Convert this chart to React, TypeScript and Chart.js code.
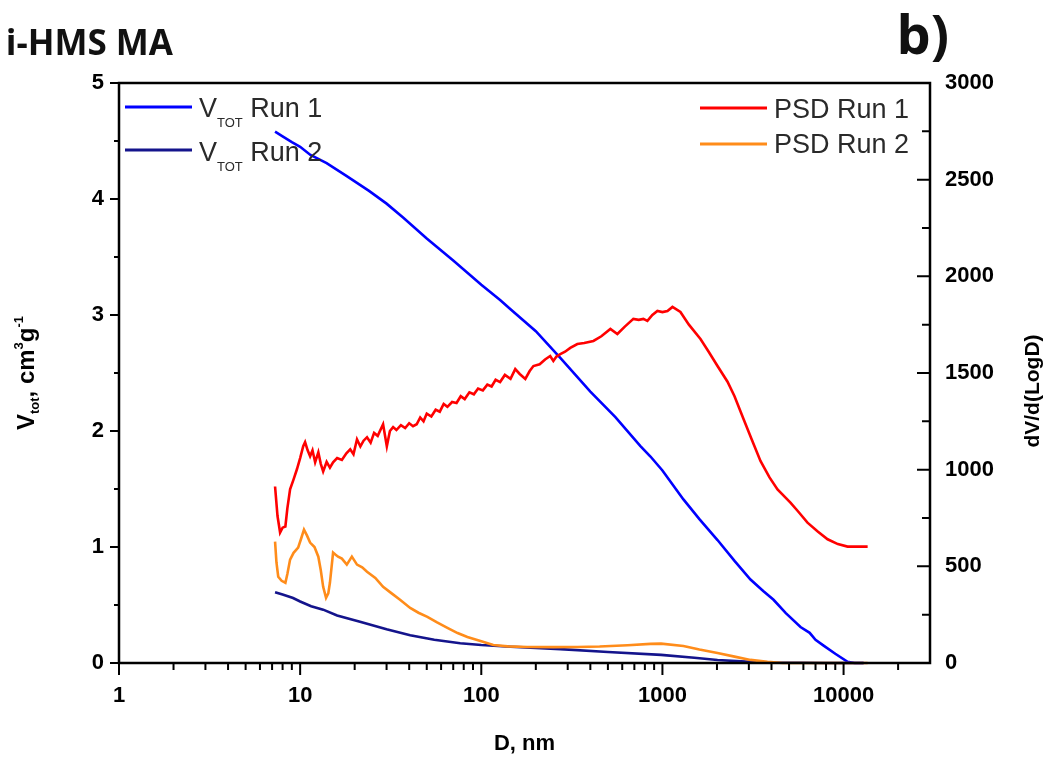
import React, { useEffect, useRef } from 'react';
import { Chart, registerables } from 'chart.js';

Chart.register(...registerables);

// ---- data (D in nm) ----
const vRun1D = [7.27, 8, 9, 10, 11.4, 14, 18, 24, 30, 37, 50, 70, 100, 127, 145, 200, 273, 400, 550, 756, 859, 1000, 1306, 1600, 2014, 2500, 3063, 3600, 4105, 4800, 5784, 6500, 7000, 7759, 9000, 10520, 11500, 12900];
const vRun1 = [4.58, 4.54, 4.49, 4.45, 4.38, 4.31, 4.2, 4.07, 3.96, 3.84, 3.66, 3.47, 3.26, 3.13, 3.05, 2.86, 2.63, 2.34, 2.12, 1.87, 1.78, 1.66, 1.41, 1.24, 1.06, 0.88, 0.72, 0.62, 0.545, 0.43, 0.31, 0.26, 0.2, 0.15, 0.08, 0.01, 0.0, 0.0];

const vRun2D = [7.27, 8, 9.14, 10, 11.5, 13.4, 16, 21.4, 30, 40.5, 55, 76.5, 100, 145, 200, 273, 500, 983, 1500, 2014, 3063, 4000, 5784, 8000, 12900];
const vRun2 = [0.61, 0.59, 0.56, 0.53, 0.49, 0.46, 0.41, 0.355, 0.29, 0.24, 0.2, 0.17, 0.155, 0.14, 0.13, 0.12, 0.095, 0.07, 0.045, 0.026, 0.01, 0.004, 0.002, 0, 0];

const psd1D = [7.27, 7.5, 7.75, 8.0, 8.29, 8.5, 8.8, 9.2, 9.6, 10.0, 10.4, 10.65, 11.0, 11.35, 11.7, 12.1, 12.6, 13.0, 13.4, 14.0, 14.6, 15.2, 16.0, 17.0, 18.0, 18.9, 19.7, 20.6, 21.5, 22.4, 23.4, 24.5, 25.6, 26.8, 28.7, 30.1, 31.3, 32.6, 34, 36, 38, 40, 42, 44, 46, 48, 50, 53, 56, 59, 62, 65, 69, 73, 77, 81, 86, 91, 96, 102, 108, 114, 120, 127, 135, 145, 154, 163, 175, 185, 194, 210, 225, 240, 250, 260, 273, 290, 310, 339, 370, 416, 460, 516, 564, 620, 691, 740, 785, 826, 880, 938, 1000, 1066, 1136, 1257, 1400, 1622, 1800, 2014, 2287, 2500, 2803, 3100, 3477, 3900, 4318, 5090, 5600, 6321, 7200, 8164, 9300, 10520, 12000, 13580];
const psd1 = [913, 760, 675, 700, 706, 800, 898, 950, 1002, 1060, 1121, 1142, 1100, 1069, 1100, 1038, 1090, 1030, 991, 1040, 1010, 1038, 1060, 1050, 1085, 1105, 1080, 1157, 1120, 1150, 1168, 1140, 1190, 1175, 1235, 1121, 1200, 1220, 1205, 1230, 1215, 1240, 1225, 1235, 1270, 1250, 1290, 1275, 1310, 1300, 1340, 1325, 1350, 1345, 1380, 1365, 1400, 1390, 1420, 1410, 1440, 1430, 1465, 1453, 1490, 1470, 1520, 1495, 1469, 1510, 1536, 1545, 1570, 1588, 1562, 1585, 1598, 1610, 1630, 1650, 1655, 1666, 1690, 1728, 1702, 1740, 1780, 1775, 1780, 1770, 1800, 1821, 1815, 1821, 1842, 1816, 1750, 1676, 1610, 1536, 1455, 1380, 1262, 1160, 1045, 960, 898, 830, 785, 726, 680, 640, 615, 602, 602, 602];

const psd2D = [7.27, 7.4, 7.57, 7.9, 8.29, 8.5, 8.8, 9.2, 9.75, 10.1, 10.5, 10.9, 11.35, 12.0, 12.6, 13.0, 13.4, 13.9, 14.3, 14.6, 15.2, 15.7, 16.2, 17.0, 18.1, 19.3, 20.6, 22.0, 23.4, 26, 28.7, 32, 35.6, 40.5, 45, 50.4, 57, 65, 74, 83.8, 100, 116.5, 140, 179, 250, 339, 450, 643, 859, 983, 1306, 1600, 2014, 2500, 3063, 3800, 4640, 8000, 13580];
const psd2 = [628, 520, 446, 425, 415, 460, 535, 570, 597, 640, 690, 660, 623, 600, 550, 480, 394, 337, 360, 415, 571, 560, 550, 540, 509, 550, 509, 495, 472, 440, 394, 360, 327, 285, 260, 239, 210, 182, 155, 135, 112, 93, 86, 83, 82, 83, 85, 92, 99, 100, 88, 70, 52, 33, 16, 6, 0, 0, 0];

// ---- axis ticks ----
const xMajorTicks = [1, 10, 100, 1000, 10000];
const xMinorTicks = [2, 3, 4, 5, 6, 7, 8, 9, 20, 30, 40, 50, 60, 70, 80, 90, 200, 300, 400, 500, 600, 700, 800, 900, 2000, 3000, 4000, 5000, 6000, 7000, 8000, 9000, 20000];
const leftMajorTicks = [0, 1, 2, 3, 4, 5];
const leftMinorTicks = [0.5, 1.5, 2.5, 3.5, 4.5];
const rightMajorTicks = [0, 500, 1000, 1500, 2000, 2500, 3000];
const rightMinorTicks = [250, 750, 1250, 1750, 2250, 2750];

const toPts = (xs: number[], ys: number[]) => xs.map((x, i) => ({ x, y: ys[i] }));

const SANS = '"Liberation Sans", Arial, sans-serif';

const drawRuns = (ctx: CanvasRenderingContext2D, runs: { t: string; size: number; dy: number; bold?: boolean }[], x: number, y: number, align: 'left' | 'center') => {
  let total = 0;
  const widths = runs.map((r) => {
    ctx.font = `${r.bold ? 'bold ' : ''}${r.size}px ${SANS}`;
    const w = ctx.measureText(r.t).width;
    total += w;
    return w;
  });
  let cx = align === 'center' ? x - total / 2 : x;
  runs.forEach((r, i) => {
    ctx.font = `${r.bold ? 'bold ' : ''}${r.size}px ${SANS}`;
    ctx.fillText(r.t, cx, y + r.dy);
    cx += widths[i];
  });
};

const decorPlugin = {
  id: 'decor',
  afterDraw(chart: any) {
    const ctx: CanvasRenderingContext2D = chart.ctx;
    const { left, right, top, bottom } = chart.chartArea;
    const { x, y, y1 } = chart.scales;
    ctx.save();
    ctx.strokeStyle = '#000';
    ctx.fillStyle = '#000';
    ctx.lineWidth = 2.5;
    ctx.lineCap = 'butt';
    // frame
    ctx.beginPath();
    ctx.moveTo(left, top);
    ctx.lineTo(right, top);
    ctx.moveTo(left, top - 1.2);
    ctx.lineTo(left, bottom + 1.2);
    ctx.moveTo(right, top - 1.2);
    ctx.lineTo(right, bottom + 1.2);
    ctx.moveTo(left, bottom);
    ctx.lineTo(right, bottom);
    ctx.stroke();

    ctx.lineWidth = 2;
    // x ticks
    ctx.beginPath();
    xMajorTicks.forEach((v) => {
      const px = x.getPixelForValue(v);
      ctx.moveTo(px, bottom);
      ctx.lineTo(px, bottom + 12);
    });
    xMinorTicks.forEach((v) => {
      const px = x.getPixelForValue(v);
      ctx.moveTo(px, bottom);
      ctx.lineTo(px, bottom + 7);
    });
    // left ticks
    leftMajorTicks.forEach((v) => {
      const py = y.getPixelForValue(v);
      ctx.moveTo(left, py);
      ctx.lineTo(left - 9, py);
    });
    leftMinorTicks.forEach((v) => {
      const py = y.getPixelForValue(v);
      ctx.moveTo(left, py);
      ctx.lineTo(left - 5, py);
    });
    // right ticks (inward)
    rightMajorTicks.forEach((v) => {
      const py = y1.getPixelForValue(v);
      ctx.moveTo(right, py);
      ctx.lineTo(right - 13, py);
    });
    rightMinorTicks.forEach((v) => {
      const py = y1.getPixelForValue(v);
      ctx.moveTo(right, py);
      ctx.lineTo(right - 8, py);
    });
    ctx.stroke();

    // tick labels
    ctx.font = `bold 22px ${SANS}`;
    ctx.textAlign = 'center';
    ctx.textBaseline = 'alphabetic';
    xMajorTicks.forEach((v) => {
      ctx.fillText(String(v), x.getPixelForValue(v), bottom + 39);
    });
    ctx.textAlign = 'right';
    ctx.textBaseline = 'middle';
    leftMajorTicks.forEach((v) => {
      ctx.fillText(String(v), left - 15, y.getPixelForValue(v));
    });
    ctx.textAlign = 'left';
    rightMajorTicks.forEach((v) => {
      ctx.fillText(String(v), right + 15, y1.getPixelForValue(v));
    });

    // axis titles
    ctx.textBaseline = 'alphabetic';
    ctx.textAlign = 'center';
    ctx.font = `bold 22px ${SANS}`;
    ctx.fillText('D, nm', (left + right) / 2, 750);

    ctx.save();
    ctx.translate(34, (top + bottom) / 2);
    ctx.rotate(-Math.PI / 2);
    ctx.textAlign = 'left';
    drawRuns(ctx, [
      { t: 'V', size: 24, dy: 0, bold: true },
      { t: 'tot', size: 13, dy: 5, bold: true },
      { t: ', cm', size: 24, dy: 0, bold: true },
      { t: '3', size: 13, dy: -11, bold: true },
      { t: 'g', size: 24, dy: 0, bold: true },
      { t: '-1', size: 13, dy: -11, bold: true },
    ], 0, 0, 'center');
    ctx.restore();

    ctx.save();
    ctx.translate(1039, 391);
    ctx.rotate(-Math.PI / 2);
    ctx.textAlign = 'center';
    ctx.font = `bold 21px ${SANS}`;
    ctx.fillText('dV/d(LogD)', 0, 0);
    ctx.restore();

    // legends
    ctx.lineWidth = 3;
    const leg = (x0: number, x1: number, yy: number, color: string) => {
      ctx.strokeStyle = color;
      ctx.beginPath();
      ctx.moveTo(x0, yy);
      ctx.lineTo(x1, yy);
      ctx.stroke();
    };
    leg(125, 192, 107, '#0000ff');
    leg(125, 192, 150, '#14148c');
    leg(700, 767, 108, '#ff0000');
    leg(700, 767, 144, '#ff8c1a');

    ctx.fillStyle = '#2a2a2a';
    ctx.textAlign = 'left';
    ctx.textBaseline = 'alphabetic';
    drawRuns(ctx, [
      { t: 'V', size: 27, dy: 0 },
      { t: 'TOT', size: 13, dy: 10 },
      { t: ' Run 1', size: 27, dy: 0 },
    ], 199, 117, 'left');
    drawRuns(ctx, [
      { t: 'V', size: 27, dy: 0 },
      { t: 'TOT', size: 13, dy: 10 },
      { t: ' Run 2', size: 27, dy: 0 },
    ], 199, 161, 'left');
    ctx.font = `27px ${SANS}`;
    ctx.fillText('PSD Run 1', 774, 118);
    ctx.fillText('PSD Run 2', 774, 153);

    // header texts
    ctx.fillStyle = '#111';
    ctx.textAlign = 'right';
    ctx.font = 'bold 35px "Open Sans", sans-serif';
    ctx.fillText('i-HMS MA', 173, 55);
    ctx.font = 'bold 54px "Open Sans", sans-serif';
    ctx.fillText('b)', 949, 54);

    ctx.restore();
  },
};

export default function App() {
  const ref = useRef<HTMLCanvasElement | null>(null);

  useEffect(() => {
    if (!ref.current) return;
    const chart = new Chart(ref.current, {
      type: 'scatter',
      data: {
        datasets: [
          { label: 'VTOT Run 1', data: toPts(vRun1D, vRun1), yAxisID: 'y', borderColor: '#0000ff', order: 2 },
          { label: 'VTOT Run 2', data: toPts(vRun2D, vRun2), yAxisID: 'y', borderColor: '#14148c', order: 3 },
          { label: 'PSD Run 1', data: toPts(psd1D, psd1), yAxisID: 'y1', borderColor: '#ff0000', order: 1 },
          { label: 'PSD Run 2', data: toPts(psd2D, psd2), yAxisID: 'y1', borderColor: '#ff8c1a', order: 0 },
        ].map((d) => ({
          ...d,
          showLine: true,
          borderWidth: 2.6,
          pointRadius: 0,
          pointHoverRadius: 0,
          tension: 0,
          fill: false,
          clip: 4,
          backgroundColor: d.borderColor,
        })) as any,
      },
      options: {
        animation: false,
        responsive: true,
        maintainAspectRatio: false,
        layout: { padding: { left: 119, right: 116, top: 83, bottom: 95 } },
        plugins: { legend: { display: false }, tooltip: { enabled: false } },
        events: [],
        scales: {
          x: { type: 'logarithmic', min: 1, max: 30000, display: false },
          y: { type: 'linear', position: 'left', min: 0, max: 5, display: false },
          y1: { type: 'linear', position: 'right', min: 0, max: 3000, display: false },
        },
      },
      plugins: [decorPlugin],
    });
    return () => chart.destroy();
  }, []);

  return (
    <div style={{ position: 'absolute', left: 0, top: 0, width: 1046, height: 758, background: '#fff' }}>
      <canvas ref={ref} />
    </div>
  );
}
